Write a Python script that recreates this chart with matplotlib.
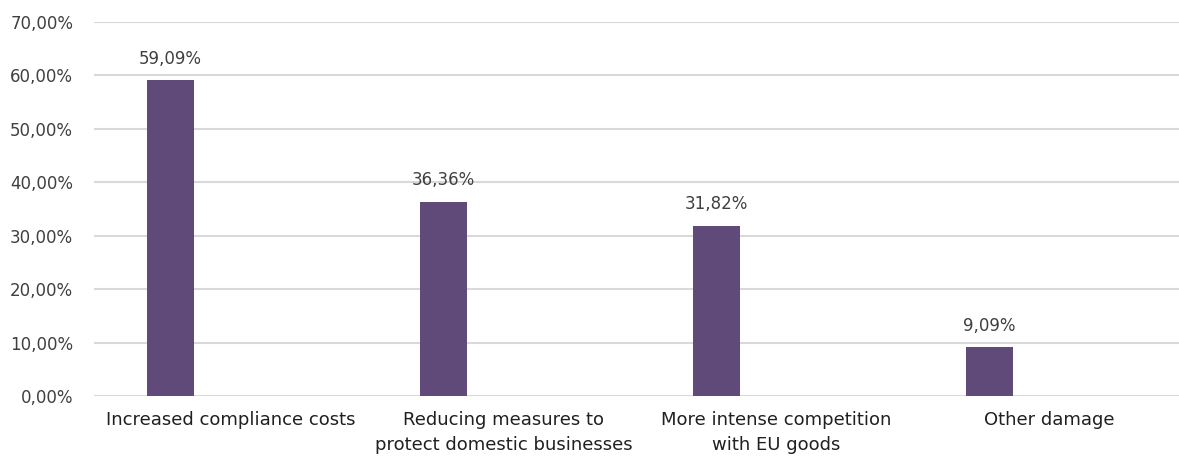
import numpy as np
import matplotlib.pyplot as plt
from matplotlib.ticker import FuncFormatter

categories = [
    "Increased compliance costs",
    "Reducing measures to\nprotect domestic businesses",
    "More intense competition\nwith EU goods",
    "Other damage",
]
shares = [0.5909, 0.3636, 0.3182, 0.0909]
y_ticks = [0.0, 0.1, 0.2, 0.3, 0.4, 0.5, 0.6, 0.7]

bar_color = "#5F4A7A"
grid_color = "#D9D9D9"
text_color = "#404040"


def pct(v):
    return f"{v * 100:.2f}".replace(".", ",") + "%"


fig = plt.figure(figsize=(11.79, 4.59), dpi=100)
ax = fig.add_axes([94 / 1179, 1 - 396 / 459, 1 - 94 / 1179, (396 - 22) / 459])

x = np.arange(len(categories))
# bars sit left of the category centre (empty second series in the original)
bar_x = x - 0.22
bars = ax.bar(bar_x, shares, width=0.172, color=bar_color, zorder=3)

for bx, v in zip(bar_x, shares):
    ax.annotate(pct(v), (bx, v), xytext=(0, 9), textcoords="offset points",
                ha="center", va="bottom", fontsize=12, color=text_color)

ax.set_xlim(-0.5, 3.5 - 7 / 273)
ax.set_ylim(0, 0.7)
ax.set_yticks(y_ticks)
ax.yaxis.set_major_formatter(FuncFormatter(lambda v, _: pct(v)))
ax.set_xticks(x)
ax.set_xticklabels(categories, fontsize=13, color="#202020", linespacing=1.5)

ax.grid(axis="y", color=grid_color, linewidth=1.5, zorder=0)
ax.tick_params(axis="y", length=0, pad=15, labelsize=12, labelcolor=text_color)
ax.tick_params(axis="x", length=0, pad=11)
for s in ax.spines.values():
    s.set_visible(False)

fig.savefig("out.png", dpi=100)
